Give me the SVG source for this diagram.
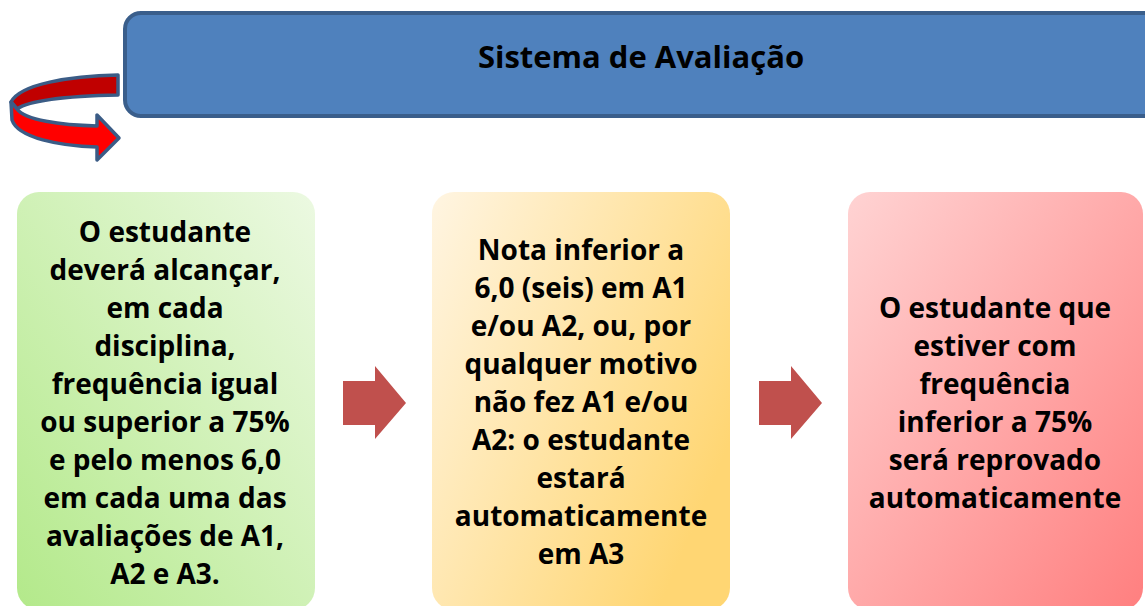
<svg xmlns="http://www.w3.org/2000/svg" width="1145" height="606" viewBox="0 0 1145 606">
<defs>
<linearGradient id="gGreen" x1="1" y1="0" x2="0" y2="1">
<stop offset="0" stop-color="#ecf9e2"/>
<stop offset="1" stop-color="#b3e98a"/>
</linearGradient>
<linearGradient id="gYellow" x1="0" y1="0" x2="1" y2="0.6">
<stop offset="0" stop-color="#fff5e2"/>
<stop offset="1" stop-color="#ffd673"/>
</linearGradient>
<linearGradient id="gRed" x1="0" y1="0" x2="1" y2="1">
<stop offset="0" stop-color="#ffd3d3"/>
<stop offset="1" stop-color="#ff7f7f"/>
</linearGradient>
<style>
.t{font-family:"Open Sans","DejaVu Sans",sans-serif;font-weight:bold;font-size:28px;fill:#000;text-anchor:middle}
.h{font-size:31px}
.blk{fill:#c0504d}
.curl{stroke:#3b5c86;stroke-width:3.5;stroke-linejoin:round}
</style>
</defs>
<g id="header">
<rect x="125" y="13" width="1040" height="103" rx="16" fill="#4f81bd" stroke="#3a5e8b" stroke-width="4"/>
<text class="t h" x="641" y="68">Sistema de Avaliação</text>
</g>
<g id="curl-arrow">
<path class="curl" fill="#c00000" d="M118,75 C70,76 20,84 11,102 L17,109 C30,100 70,96 118,95 Z"/>
<path class="curl" fill="#ff0000" d="M11,102 L12,120 C18,138 60,146 97,147 L97,160 L119,138 L97,115 L97,126 C60,125 25,120 17,109 Z"/>
</g>
<g id="box1">
<rect x="17" y="192" width="298" height="418" rx="22" fill="url(#gGreen)"/>
<text class="t" x="165" y="242">O estudante</text>
<text class="t" x="165" y="280">deverá alcançar,</text>
<text class="t" x="165" y="318">em cada</text>
<text class="t" x="165" y="356">disciplina,</text>
<text class="t" x="165" y="394">frequência igual</text>
<text class="t" x="165" y="432">ou superior a 75%</text>
<text class="t" x="165" y="470">e pelo menos 6,0</text>
<text class="t" x="165" y="508">em cada uma das</text>
<text class="t" x="165" y="546">avaliações de A1,</text>
<text class="t" x="165" y="584">A2 e A3.</text>
</g>
<g id="box2">
<rect x="432" y="192" width="298" height="418" rx="22" fill="url(#gYellow)"/>
<text class="t" x="581" y="260">Nota inferior a</text>
<text class="t" x="581" y="298">6,0 (seis) em A1</text>
<text class="t" x="581" y="336">e/ou A2, ou, por</text>
<text class="t" x="581" y="374">qualquer motivo</text>
<text class="t" x="581" y="412">não fez A1 e/ou</text>
<text class="t" x="581" y="450">A2: o estudante</text>
<text class="t" x="581" y="488">estará</text>
<text class="t" x="581" y="526">automaticamente</text>
<text class="t" x="581" y="564">em A3</text>
</g>
<g id="box3">
<rect x="848" y="192" width="295" height="418" rx="22" fill="url(#gRed)"/>
<text class="t" x="995" y="318">O estudante que</text>
<text class="t" x="995" y="356">estiver com</text>
<text class="t" x="995" y="394">frequência</text>
<text class="t" x="995" y="432">inferior a 75%</text>
<text class="t" x="995" y="470">será reprovado</text>
<text class="t" x="995" y="508">automaticamente</text>
</g>
<g id="connectors">
<path class="blk" d="M343,381 L375,381 L375,366 L406,403 L375,439 L375,425 L343,425 Z"/>
<path class="blk" d="M759,381 L791,381 L791,366 L822,403 L791,439 L791,425 L759,425 Z"/>
</g>
</svg>
